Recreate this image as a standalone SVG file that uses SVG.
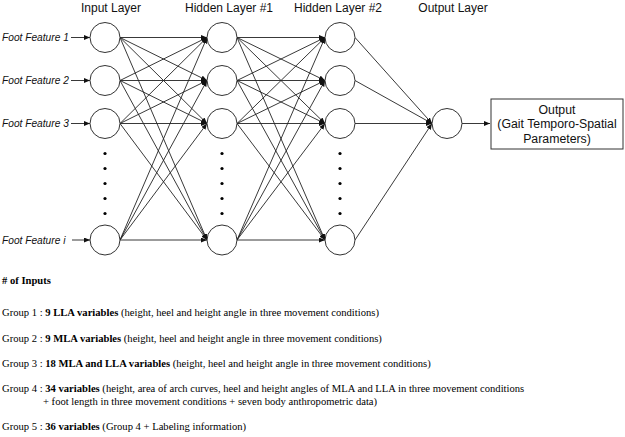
<svg xmlns="http://www.w3.org/2000/svg" width="625" height="437" viewBox="0 0 625 437">
<defs>
<marker id="ah" markerUnits="userSpaceOnUse" markerWidth="6" markerHeight="5" refX="6" refY="2.5" orient="auto">
<path d="M0,0 L6,2.5 L0,5 z" fill="#111"/>
</marker>
<style>
.node{fill:#fff;stroke:#333;stroke-width:1}
.dot{fill:#000}
.title{font-family:"Liberation Sans",Arial,sans-serif;font-size:12px;fill:#111;text-anchor:middle}
.feat{font-family:"Liberation Sans",Arial,sans-serif;font-size:10.2px;font-style:italic;fill:#111}
.c line{stroke:#222;stroke-width:0.9;marker-end:url(#ah)}
.box{fill:#fff;stroke:#333;stroke-width:1}
.bt{font-family:"Liberation Sans",Arial,sans-serif;font-size:12.3px;fill:#111;text-anchor:middle}
.gt{font-family:"Liberation Serif","Times New Roman",serif;font-size:10.6px;fill:#000}
.b{font-weight:bold}
</style>
</defs>
<rect width="625" height="437" fill="#fff"/>

<g id="titles">
<text class="title" x="111" y="11.5">Input Layer</text>
<text class="title" x="229" y="11.5">Hidden Layer #1</text>
<text class="title" x="338" y="11.5">Hidden Layer #2</text>
<text class="title" x="453" y="11.5">Output Layer</text>
</g>

<g id="connectors" class="c">
<line x1="71" y1="37.5" x2="90" y2="37.5"/>
<line x1="71" y1="80.5" x2="90" y2="80.5"/>
<line x1="71" y1="123.5" x2="90" y2="123.5"/>
<line x1="72" y1="240" x2="90" y2="240"/>
<!-- input -> hidden1 -->
<line x1="120" y1="37.5" x2="207" y2="37.5"/>
<line x1="120" y1="37.5" x2="207" y2="80.5"/>
<line x1="120" y1="37.5" x2="207" y2="123.5"/>
<line x1="120" y1="37.5" x2="207" y2="240"/>
<line x1="120" y1="80.5" x2="207" y2="37.5"/>
<line x1="120" y1="80.5" x2="207" y2="80.5"/>
<line x1="120" y1="80.5" x2="207" y2="123.5"/>
<line x1="120" y1="80.5" x2="207" y2="240"/>
<line x1="120" y1="123.5" x2="207" y2="37.5"/>
<line x1="120" y1="123.5" x2="207" y2="80.5"/>
<line x1="120" y1="123.5" x2="207" y2="123.5"/>
<line x1="120" y1="123.5" x2="207" y2="240"/>
<line x1="120" y1="240" x2="207" y2="37.5"/>
<line x1="120" y1="240" x2="207" y2="80.5"/>
<line x1="120" y1="240" x2="207" y2="123.5"/>
<line x1="120" y1="240" x2="207" y2="240"/>
<!-- hidden1 -> hidden2 -->
<line x1="237" y1="37.5" x2="325" y2="37.5"/>
<line x1="237" y1="37.5" x2="325" y2="80.5"/>
<line x1="237" y1="37.5" x2="325" y2="123.5"/>
<line x1="237" y1="37.5" x2="325" y2="240"/>
<line x1="237" y1="80.5" x2="325" y2="37.5"/>
<line x1="237" y1="80.5" x2="325" y2="80.5"/>
<line x1="237" y1="80.5" x2="325" y2="123.5"/>
<line x1="237" y1="80.5" x2="325" y2="240"/>
<line x1="237" y1="123.5" x2="325" y2="37.5"/>
<line x1="237" y1="123.5" x2="325" y2="80.5"/>
<line x1="237" y1="123.5" x2="325" y2="123.5"/>
<line x1="237" y1="123.5" x2="325" y2="240"/>
<line x1="237" y1="240" x2="325" y2="37.5"/>
<line x1="237" y1="240" x2="325" y2="80.5"/>
<line x1="237" y1="240" x2="325" y2="123.5"/>
<line x1="237" y1="240" x2="325" y2="240"/>
<!-- hidden2 -> output -->
<line x1="355" y1="37.5" x2="432" y2="123.5"/>
<line x1="355" y1="80.5" x2="432" y2="123.5"/>
<line x1="355" y1="123.5" x2="432" y2="123.5"/>
<line x1="355" y1="240" x2="432" y2="123.5"/>
<line x1="462" y1="123.5" x2="490" y2="123.5"/>
</g>

<g id="features">
<text class="feat" x="2" y="41">Foot Feature 1</text>
<text class="feat" x="2" y="84">Foot Feature 2</text>
<text class="feat" x="2" y="127">Foot Feature 3</text>
<text class="feat" x="2" y="243.5">Foot Feature i</text>
</g>

<g id="input-layer">
<circle class="node" cx="105" cy="37.5" r="15"/>
<circle class="node" cx="105" cy="80.5" r="15"/>
<circle class="node" cx="105" cy="123.5" r="15"/>
<circle class="node" cx="105" cy="240" r="15"/>
<circle class="dot" cx="105" cy="153.5" r="1.6"/>
<circle class="dot" cx="105" cy="168.5" r="1.6"/>
<circle class="dot" cx="105" cy="183.5" r="1.6"/>
<circle class="dot" cx="105" cy="198.5" r="1.6"/>
<circle class="dot" cx="105" cy="213.5" r="1.6"/>
</g>

<g id="hidden-layer-1">
<circle class="node" cx="222" cy="37.5" r="15"/>
<circle class="node" cx="222" cy="80.5" r="15"/>
<circle class="node" cx="222" cy="123.5" r="15"/>
<circle class="node" cx="222" cy="240" r="15"/>
<circle class="dot" cx="222" cy="153.5" r="1.6"/>
<circle class="dot" cx="222" cy="168.5" r="1.6"/>
<circle class="dot" cx="222" cy="183.5" r="1.6"/>
<circle class="dot" cx="222" cy="198.5" r="1.6"/>
<circle class="dot" cx="222" cy="213.5" r="1.6"/>
</g>

<g id="hidden-layer-2">
<circle class="node" cx="340" cy="37.5" r="15"/>
<circle class="node" cx="340" cy="80.5" r="15"/>
<circle class="node" cx="340" cy="123.5" r="15"/>
<circle class="node" cx="340" cy="240" r="15"/>
<circle class="dot" cx="340" cy="153.5" r="1.6"/>
<circle class="dot" cx="340" cy="168.5" r="1.6"/>
<circle class="dot" cx="340" cy="183.5" r="1.6"/>
<circle class="dot" cx="340" cy="198.5" r="1.6"/>
<circle class="dot" cx="340" cy="213.5" r="1.6"/>
</g>

<g id="output-layer">
<circle class="node" cx="447" cy="123.5" r="15"/>
</g>

<g id="output-box">
<rect class="box" x="491" y="99" width="132" height="50"/>
<text class="bt" x="557" y="113.5">Output</text>
<text class="bt" x="557" y="128">(Gait Temporo-Spatial</text>
<text class="bt" x="557" y="142.5">Parameters)</text>
</g>

<g id="inputs-legend" class="gt">
<text class="gt b" x="2" y="283.5"># of Inputs</text>
<text class="gt" x="2" y="316">Group 1 : <tspan class="b">9 LLA variables</tspan> (height, heel and height angle in three movement conditions)</text>
<text class="gt" x="2" y="341.5">Group 2 : <tspan class="b">9 MLA variables</tspan> (height, heel and height angle in three movement conditions)</text>
<text class="gt" x="2" y="366.5">Group 3 : <tspan class="b">18 MLA and LLA variables</tspan> (height, heel and height angle in three movement conditions)</text>
<text class="gt" x="2" y="392">Group 4 : <tspan class="b">34 variables</tspan> (height, area of arch curves, heel and height angles of MLA and LLA in three movement conditions</text>
<text class="gt" x="43" y="404.5">+ foot length in three movement conditions + seven body anthropometric data)</text>
<text class="gt" x="2" y="429.5">Group 5 : <tspan class="b">36 variables</tspan> (Group 4 + Labeling information)</text>
</g>
</svg>
